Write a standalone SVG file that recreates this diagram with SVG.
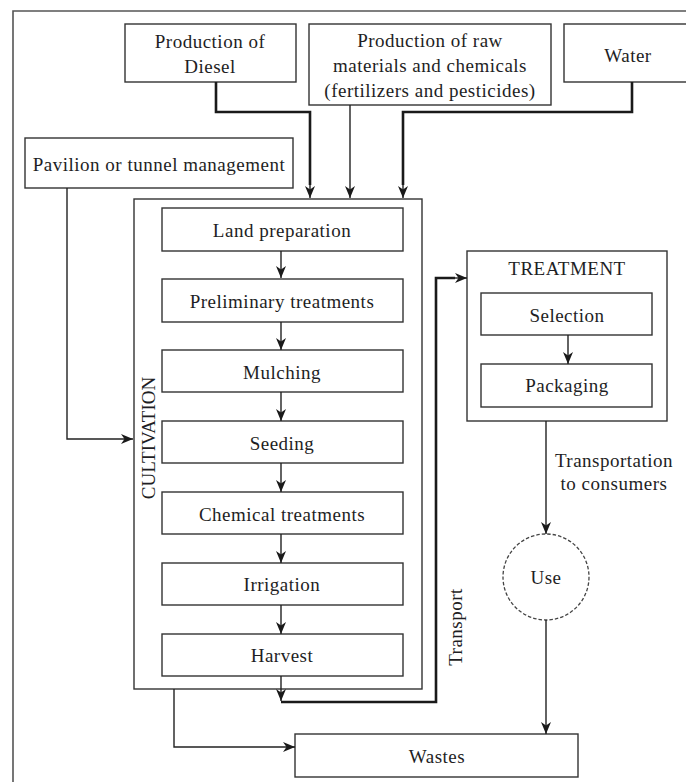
<svg xmlns="http://www.w3.org/2000/svg" width="686" height="782" viewBox="0 0 686 782">
<style>
text{font-family:"Liberation Serif","Times New Roman",serif;font-size:19px;fill:#1e1e24;text-anchor:middle;letter-spacing:0.5px}
.box{fill:#fff;stroke:#333;stroke-width:1.4}
.ln{fill:none;stroke:#222;stroke-width:1.4}
.thick{fill:none;stroke:#1a1a1a;stroke-width:2.6}
.frame{fill:none;stroke:#555;stroke-width:1.6}
</style>
<defs>
<marker id="ah" markerUnits="userSpaceOnUse" markerWidth="13" markerHeight="11" viewBox="0 0 13 11" refX="12" refY="5.5" orient="auto">
<path d="M0,0.5 L12,5.5 L0,10.5 L3.5,5.5 z" fill="#1a1a1a"/>
</marker>
</defs>
<rect width="686" height="782" fill="#fff"/>
<path class="frame" d="M13,782 V11 H686"/>

<g id="diesel">
<rect class="box" x="125" y="24" width="171" height="58"/>
<text x="210" y="48">Production of</text>
<text x="210" y="73">Diesel</text>
</g>
<g id="raw-materials">
<rect class="box" x="309" y="24" width="242" height="81"/>
<text x="430" y="47">Production of raw</text>
<text x="430" y="72">materials and chemicals</text>
<text x="430" y="97">(fertilizers and pesticides)</text>
</g>
<g id="water">
<rect class="box" x="564" y="24" width="130" height="58"/>
<text x="628" y="62">Water</text>
</g>
<g id="pavilion">
<rect class="box" x="25" y="138" width="268" height="50"/>
<text x="159" y="171">Pavilion or tunnel management</text>
</g>

<g id="cultivation">
<rect class="box" x="134" y="199" width="288" height="490"/>
<text transform="translate(155,438) rotate(-90)" style="letter-spacing:0">CULTIVATION</text>
</g>
<g id="land-preparation">
<rect class="box" x="162" y="208" width="241" height="43"/>
<text x="282" y="237">Land preparation</text>
</g>
<g id="preliminary-treatments">
<rect class="box" x="162" y="279" width="241" height="43"/>
<text x="282" y="308">Preliminary treatments</text>
</g>
<g id="mulching">
<rect class="box" x="162" y="350" width="241" height="42"/>
<text x="282" y="379">Mulching</text>
</g>
<g id="seeding">
<rect class="box" x="162" y="421" width="241" height="42"/>
<text x="282" y="450">Seeding</text>
</g>
<g id="chemical-treatments">
<rect class="box" x="162" y="492" width="241" height="42"/>
<text x="282" y="521">Chemical treatments</text>
</g>
<g id="irrigation">
<rect class="box" x="162" y="563" width="241" height="42"/>
<text x="282" y="591">Irrigation</text>
</g>
<g id="harvest">
<rect class="box" x="162" y="634" width="241" height="42"/>
<text x="282" y="662">Harvest</text>
</g>

<g id="treatment">
<rect class="box" x="467" y="251" width="200" height="170"/>
<text x="567" y="275">TREATMENT</text>
</g>
<g id="selection">
<rect class="box" x="481" y="293" width="171" height="42"/>
<text x="567" y="322">Selection</text>
</g>
<g id="packaging">
<rect class="box" x="481" y="364" width="171" height="43"/>
<text x="567" y="392">Packaging</text>
</g>

<g id="use">
<circle cx="546" cy="577" r="43" fill="#fff" stroke="#444" stroke-width="1.3" stroke-dasharray="3.5 2"/>
<text x="546" y="584">Use</text>
</g>
<g id="wastes">
<rect class="box" x="295" y="734" width="283" height="43"/>
<text x="437" y="763">Wastes</text>
</g>

<g id="labels">
<text x="614" y="467">Transportation</text>
<text x="614" y="490">to consumers</text>
<text transform="translate(462,627) rotate(-90)">Transport</text>
</g>

<g id="connectors">
<path class="thick" d="M216,82 V112 H310 V185" />
<path class="ln" d="M310,184 V198" marker-end="url(#ah)"/>
<path class="ln" d="M350,105 V198" marker-end="url(#ah)"/>
<path class="thick" d="M632,82 V112 H403 V185"/>
<path class="ln" d="M403,184 V198" marker-end="url(#ah)"/>
<path class="ln" d="M67,188 V439 H133" marker-end="url(#ah)"/>
<path class="ln" d="M281,251 V278" marker-end="url(#ah)"/>
<path class="ln" d="M281,322 V350" marker-end="url(#ah)"/>
<path class="ln" d="M281,392 V421" marker-end="url(#ah)"/>
<path class="ln" d="M281,463 V492" marker-end="url(#ah)"/>
<path class="ln" d="M281,534 V563" marker-end="url(#ah)"/>
<path class="ln" d="M281,605 V634" marker-end="url(#ah)"/>
<path class="ln" d="M281,676 V701" marker-end="url(#ah)"/>
<path class="thick" d="M281,702 H436 V278 H455"/>
<path class="ln" d="M452,278 H467" marker-end="url(#ah)"/>
<path class="ln" d="M568,335 V364" marker-end="url(#ah)"/>
<path class="ln" d="M546,421 V534" marker-end="url(#ah)"/>
<path class="ln" d="M546,620 V734" marker-end="url(#ah)"/>
<path class="ln" d="M174,689 V747 H295" marker-end="url(#ah)"/>
</g>
</svg>
